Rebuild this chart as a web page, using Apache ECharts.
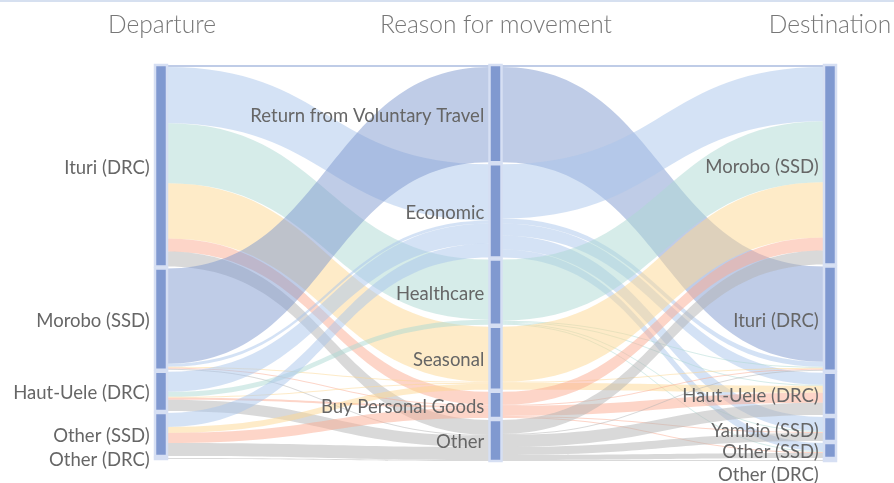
<!DOCTYPE html>
<html>
<head>
<meta charset="utf-8">
<script src="https://cdn.jsdelivr.net/npm/echarts@6/dist/echarts.min.js"></script>
<style>
html, body { margin: 0; padding: 0; background: #fff; }
#main { width: 894px; height: 483px; }
</style>
</head>
<body>
<div id="main"></div>
<script>
const columnTitles = ['Departure', 'Reason for movement', 'Destination'];
const departures = ['Ituri (DRC)', 'Morobo (SSD)', 'Haut-Uele (DRC)', 'Other (SSD)', 'Other (DRC)'];
const reasons = ['Return from Voluntary Travel', 'Economic', 'Healthcare', 'Seasonal', 'Buy Personal Goods', 'Other'];
const destinations = ['Morobo (SSD)', 'Ituri (DRC)', 'Haut-Uele (DRC)', 'Yambio (SSD)', 'Other (SSD)', 'Other (DRC)'];

// rows = departures, columns = reasons
const departureToReason = [
  [2, 56, 60, 55, 13, 15],
  [95, 3, 0, 1, 1, 1],
  [0, 20, 5, 1, 2, 11],
  [0, 14, 0, 6, 10, 13],
  [0, 0, 0, 0, 0, 1]
];
// rows = reasons, columns = destinations
const reasonToDestination = [
  [2, 95, 0, 0, 0, 0],
  [54, 5, 12, 14, 8, 0],
  [61, 1, 1, 1, 1, 0],
  [55, 1, 7, 0, 0, 0],
  [13, 1, 10, 1, 1, 0],
  [14, 1, 12, 8, 5, 1]
];
const reasonColors = ['#8099d0', '#a9c5eb', '#add9d3', '#fdd791', '#fbab91', '#b3b3b3'];

const nodes = [];
const links = [];
departures.forEach(n => nodes.push({ name: 'dep|' + n }));
reasons.forEach(n => nodes.push({ name: 'rea|' + n }));
destinations.forEach((n, i) => {
  const node = { name: 'des|' + n };
  // last label sits below the column in the original
  if (i === destinations.length - 1) node.label = { offset: [0, 15] };
  nodes.push(node);
});

departureToReason.forEach((row, i) => {
  row.forEach((v, j) => {
    if (v > 0) links.push({
      source: 'dep|' + departures[i], target: 'rea|' + reasons[j], value: v,
      lineStyle: { color: reasonColors[j], opacity: 0.5 }
    });
  });
});
reasonToDestination.forEach((row, i) => {
  row.forEach((v, j) => {
    if (v > 0) links.push({
      source: 'rea|' + reasons[i], target: 'des|' + destinations[j], value: v,
      lineStyle: { color: reasonColors[i], opacity: 0.5 }
    });
  });
});

const titleX = [162, 496, 830];
const chart = echarts.init(document.getElementById('main'));
chart.setOption({
  animation: false,
  graphic: [
    { type: 'rect', shape: { x: 0, y: 0, width: 894, height: 2 }, style: { fill: '#d6e0f0' } }
  ].concat(columnTitles.map((t, i) => ({
    type: 'text', x: titleX[i], y: 25,
    style: {
      text: t, textAlign: 'center', textVerticalAlign: 'middle',
      font: '300 24.5px Lato', fill: '#777'
    }
  }))),
  series: [{
    type: 'sankey',
    left: 155,
    right: 58,
    top: 65,
    bottom: 22,
    nodeWidth: 12,
    nodeGap: 2,
    layoutIterations: 0,
    draggable: false,
    emphasis: { disabled: true },
    itemStyle: { color: '#8099d0', borderColor: '#d6dff3', borderWidth: 2.5 },
    lineStyle: { curveness: 0.5 },
    label: {
      position: 'left',
      distance: 4,
      offset: [0, 2],
      color: '#666',
      fontFamily: 'Lato',
      fontSize: 18.5,
      formatter: p => p.name.split('|')[1]
    },
    data: nodes,
    links: links
  }]
});
</script>
</body>
</html>
